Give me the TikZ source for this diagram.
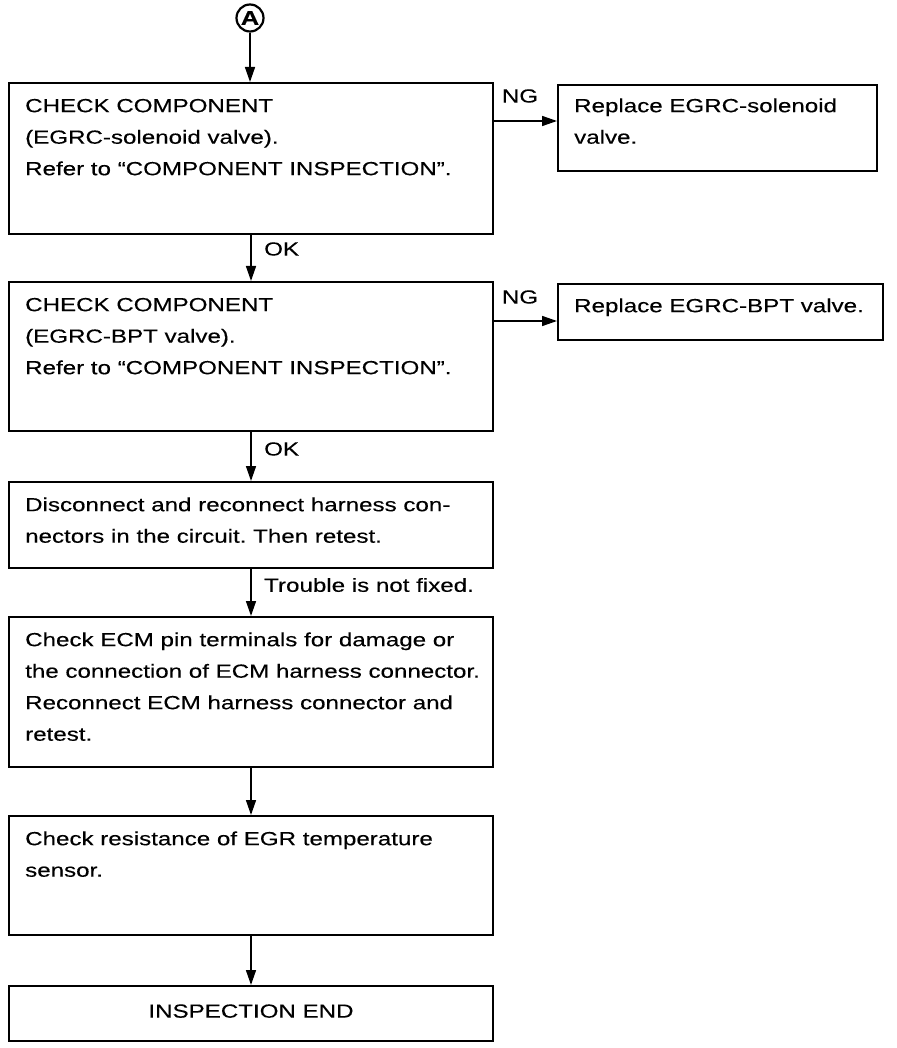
\documentclass[tikz,border=0pt]{standalone}
\usepackage{fontspec}
\setmainfont{Liberation Sans}[FakeStretch=1.27, FakeBold=0.3]
\usetikzlibrary{arrows.meta}
\begin{document}
\frenchspacing
\begin{tikzpicture}[x=1pt,y=-1pt,
  box/.style={draw, line width=2pt, anchor=north west, inner sep=0pt},
  txt/.style={anchor=north west, inner sep=0pt, align=left, font=\fontsize{19}{31.5}\selectfont},
  lbl/.style={inner sep=0pt, font=\fontsize{19}{31.5}\selectfont},
  arr/.style={line width=1.5pt, -{Triangle[length=15pt,width=10pt]}}]
\useasboundingbox (0,0) rectangle (896,1048);
% boxes
\node[box, minimum width=484pt, minimum height=151pt] (b1) at (8,82) {};
\node[box, minimum width=484pt, minimum height=149pt] (b2) at (8,281) {};
\node[box, minimum width=484pt, minimum height=86pt] (b3) at (8,481) {};
\node[box, minimum width=484pt, minimum height=150pt] (b4) at (8,616) {};
\node[box, minimum width=484pt, minimum height=119pt] (b5) at (8,815) {};
\node[box, minimum width=484pt, minimum height=55pt, text depth=5pt, font=\fontsize{19}{31.5}\selectfont] (b6) at (8,985) {INSPECTION END};
\node[box, minimum width=319pt, minimum height=86pt] (r1) at (557,84) {};
\node[box, minimum width=325pt, minimum height=56pt] (r2) at (557,283) {};
% texts
\node[txt] (t1) at (25,98) {\rule{0pt}{14pt}CHECK COMPONENT\\(EGRC-solenoid valve).\\Refer to “COMPONENT INSPECTION”.};
\node[txt] (t2) at (25,297) {\rule{0pt}{14pt}CHECK COMPONENT\\(EGRC-BPT valve).\\Refer to “COMPONENT INSPECTION”.};
\node[txt] (t3) at (25,497) {\rule{0pt}{14pt}Disconnect and reconnect harness con-\\nectors in the circuit. Then retest.};
\node[txt] (t4) at (25,632) {\rule{0pt}{14pt}Check ECM pin terminals for damage or\\the connection of ECM harness connector.\\Reconnect ECM harness connector and\\retest.};
\node[txt] (t5) at (25,831) {\rule{0pt}{14pt}Check resistance of EGR temperature\\sensor.};
\node[txt] (tr1) at (574,98) {\rule{0pt}{14pt}Replace EGRC-solenoid\\valve.};
\node[txt] (tr2) at (574,298) {\rule{0pt}{14pt}Replace EGRC-BPT valve.};
% start
\node[circle, draw, line width=2.2pt, minimum size=27pt, inner sep=0pt, font=\bfseries\fontsize{20}{20}\selectfont] (A) at (250,18) {A};
% connectors
\draw[arr] (A.south) -- (A.south |- b1.north);
\draw[arr] (b1.south) -- (b2.north);
\draw[arr] (b2.south) -- (b3.north);
\draw[arr] (b3.south) -- (b4.north);
\draw[arr] (b4.south) -- (b5.north);
\draw[arr] (b5.south) -- (b6.north);
\coordinate (y1) at (0,121);
\coordinate (y2) at (0,321);
\draw[arr] (b1.east |- y1) -- (r1.west |- y1);
\draw[arr] (b2.east |- y2) -- (r2.west |- y2);
% labels
\node[lbl] (ng1) at (520,96) {NG};
\node[lbl] (ng2) at (520,297) {NG};
\node[lbl, anchor=west] (ok1) at (264,249) {OK};
\node[lbl, anchor=west] (ok2) at (264,449) {OK};
\node[lbl, anchor=west] (tf) at (264,585) {Trouble is not fixed.};
\end{tikzpicture}
\end{document}
